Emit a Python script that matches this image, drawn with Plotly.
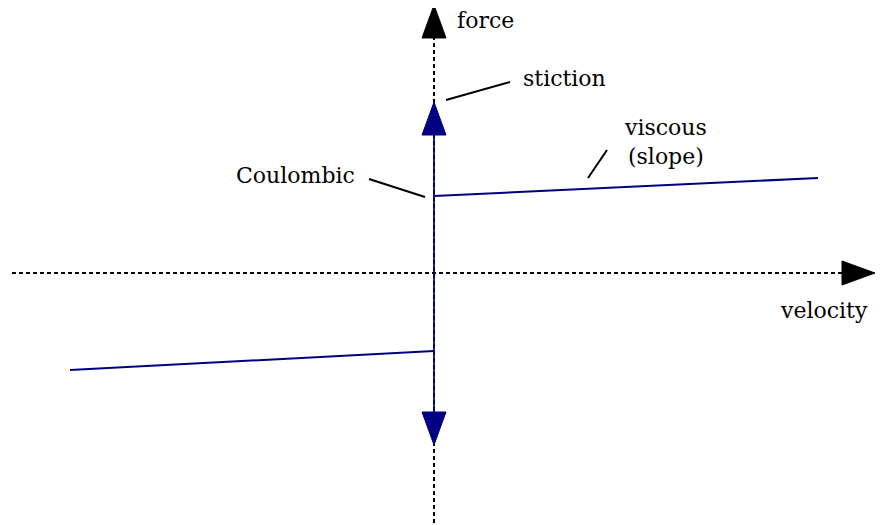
import plotly.graph_objects as go

# friction model: force vs velocity (origin at axis crossing)
viscous_pos_v = [0, 384]
viscous_pos_f = [77, 95]
viscous_neg_v = [-364, 0]
viscous_neg_f = [-97, -78]

stiction_f = [-172, 171]          # blue arrow tips (down, up)
velocity_axis = [-422, 441]       # dotted start, arrow tip
force_axis = [-250, 268]          # dotted start, arrow tip

# leader lines (from, to)
leaders = {
    "stiction": ([12, 76], [173, 191]),
    "Coulombic": ([-65, -9], [94, 76]),
    "viscous": ([154, 173], [95, 123]),
}

labels = ["force", "stiction", "Coulombic", "viscous<br>(slope)", "velocity"]
label_v = [21, 87, -77, 231, 436]
label_f = [253, 195, 98, 131, -37]

BLUE = "#000080"
HEAD_LEN, HEAD_W = 33, 24
FONT = "DejaVu Serif"

fig = go.Figure()

def head(tip, axis, color, direction):
    # filled triangle, tip at given position along axis
    b = tip - direction * HEAD_LEN
    if axis == "x":
        xs, ys = [tip, b, b, tip], [0, HEAD_W / 2, -HEAD_W / 2, 0]
    else:
        xs, ys = [0, HEAD_W / 2, -HEAD_W / 2, 0], [tip, b, b, tip]
    fig.add_trace(go.Scatter(x=xs, y=ys, mode="lines", fill="toself",
                             fillcolor=color, line=dict(color=color, width=1)))

# dotted axes
fig.add_trace(go.Scatter(x=[velocity_axis[0], velocity_axis[1] - HEAD_LEN], y=[0, 0], mode="lines",
                         line=dict(color="black", width=2, dash="4px,3px")))
fig.add_trace(go.Scatter(x=[0, 0], y=[force_axis[0], force_axis[1] - HEAD_LEN], mode="lines",
                         line=dict(color="black", width=2, dash="4px,3px")))
head(velocity_axis[1], "x", "black", 1)
head(force_axis[1], "y", "black", 1)

# stiction (vertical blue with arrows)
fig.add_trace(go.Scatter(x=[0, 0], y=[stiction_f[0] + HEAD_LEN, stiction_f[1] - HEAD_LEN], mode="lines",
                         line=dict(color=BLUE, width=2), opacity=0.85))
head(stiction_f[1], "y", BLUE, 1)
head(stiction_f[0], "y", BLUE, -1)

# viscous + Coulombic lines
fig.add_trace(go.Scatter(x=viscous_pos_v, y=viscous_pos_f, mode="lines", line=dict(color=BLUE, width=2)))
fig.add_trace(go.Scatter(x=viscous_neg_v, y=viscous_neg_f, mode="lines", line=dict(color=BLUE, width=2)))

for name, (lx, ly) in leaders.items():
    fig.add_trace(go.Scatter(x=lx, y=ly, mode="lines", line=dict(color="black", width=2)))

anchors = ["left", "left", "right", "center", "right"]
for t, x, y, a in zip(labels, label_v, label_f, anchors):
    fig.add_annotation(x=x, y=y, text=t, showarrow=False, xanchor=a, yanchor="middle", align="center",
                       font=dict(family=FONT, size=22, color="black"))

# page body has an 8px margin, so ranges are shifted to keep the origin at (434, 273)
fig.update_layout(
    width=886, height=525,
    margin=dict(l=0, r=0, t=0, b=0),
    showlegend=False,
    plot_bgcolor="white", paper_bgcolor="white",
    xaxis=dict(range=[-426, 460], visible=False),
    yaxis=dict(range=[-260, 265], visible=False),
)

fig.write_html("out.html")
